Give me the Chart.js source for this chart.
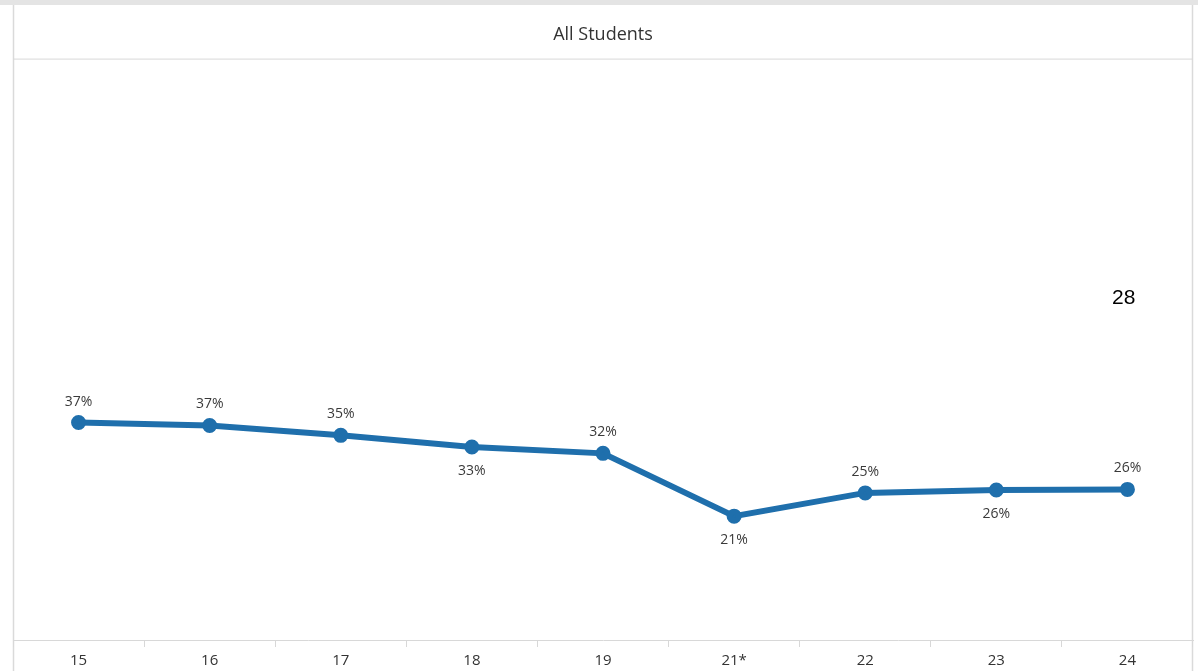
<!DOCTYPE html>
<html><head><meta charset="utf-8">
<script src="https://cdn.jsdelivr.net/npm/chart.js@4/dist/chart.umd.min.js"></script>
<style>
html,body{margin:0;padding:0;background:#fff;}
#wrap{position:relative;width:1198px;height:671px;overflow:hidden;}
#topband{position:absolute;left:0;top:0;width:1198px;height:5px;background:#e4e4e4;}
#pagenum{position:absolute;left:1112px;top:285px;font-family:"Liberation Sans",Arial,sans-serif;font-size:21px;color:#000;}
canvas{position:absolute;left:0;top:0;}
</style></head>
<body><div id="wrap"><canvas id="c" width="1198" height="671"></canvas><div id="topband"></div><div id="pagenum">28</div></div>
<script>
const categories = ["15","16","17","18","19","21*","22","23","24"];
const allStudents = [37.4, 36.9, 35.2, 33.2, 32.1, 21.3, 25.3, 25.8, 25.9];
const labelBelow = [false,false,false,true,false,true,false,true,false];
const titleText = "All Students";
const FONT = '"Open Sans","Noto Sans",sans-serif';

const framePlugin = {
  id:'frame',
  beforeDraw(chart){
    const {ctx, chartArea:a} = chart;
    ctx.save();
    ctx.strokeStyle = '#dadada';
    ctx.lineWidth = 1.5;
    ctx.beginPath();
    ctx.moveTo(a.left+0.5, 5); ctx.lineTo(a.left+0.5, 671);
    ctx.moveTo(a.right-0.5, 5); ctx.lineTo(a.right-0.5, 671);
    ctx.stroke();
    ctx.lineWidth = 1;
    ctx.strokeStyle = '#d8d8d8';
    ctx.beginPath();
    ctx.moveTo(a.left, a.top+0.5); ctx.lineTo(a.right, a.top+0.5);
    ctx.stroke();
    ctx.restore();
  },
  afterDatasetsDraw(chart){
    const {ctx} = chart;
    const meta = chart.getDatasetMeta(0);
    ctx.save();
    ctx.font = '14px ' + FONT;
    ctx.fillStyle = '#3a3a3a';
    ctx.textAlign = 'center';
    ctx.textBaseline = 'middle';
    meta.data.forEach((pt,i)=>{
      const v = chart.data.datasets[0].data[i];
      const y = labelBelow[i] ? pt.y + 24 : pt.y - 21;
      ctx.fillText(Math.round(v)+'%', pt.x, y);
    });
    ctx.restore();
  }
};

new Chart(document.getElementById('c'), {
  type:'line',
  data:{labels:categories, datasets:[{
    data: allStudents,
    borderColor:'#1f6fac',
    backgroundColor:'#1f6fac',
    borderWidth:6,
    pointRadius:4.5,
    pointHoverRadius:4.5,
    tension:0
  }]},
  options:{
    responsive:false,
    animation:false,
    events:[],
    layout:{autoPadding:false,padding:{left:13,right:5,top:0,bottom:0}},
    plugins:{
      legend:{display:false},
      tooltip:{enabled:false},
      title:{display:true,text:titleText,color:'#333',font:{family:FONT,size:18,weight:'normal'},padding:{top:24,bottom:13}}
    },
    scales:{
      x:{
        offset:true,
        afterFit(scale){ scale.paddingLeft=0; scale.paddingRight=0; scale.height=31; },
        grid:{display:true,drawOnChartArea:false,offset:true,tickLength:7,color:'#d8d8d8'},
        border:{display:true,color:'#d8d8d8',width:1},
        ticks:{color:'#333',font:{family:FONT,size:15},padding:5,maxRotation:0}
      },
      y:{display:false,min:0,max:100}
    }
  },
  plugins:[framePlugin]
});
</script></body></html>
